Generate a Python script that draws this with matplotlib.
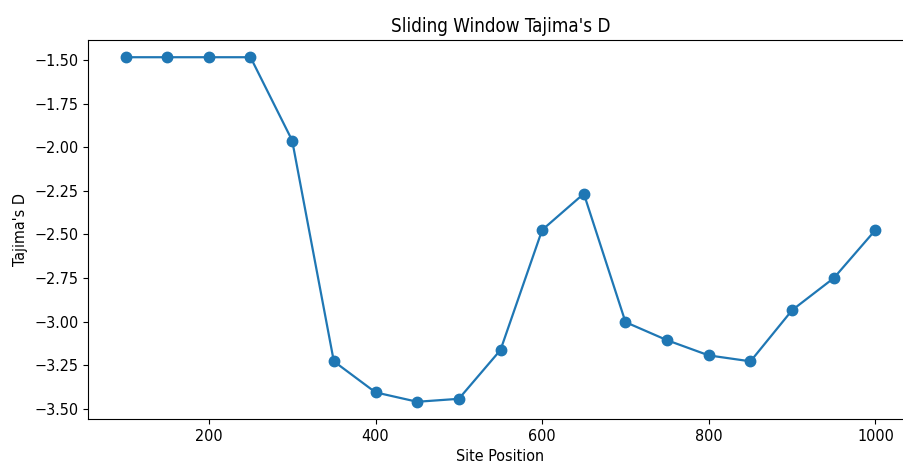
import matplotlib
matplotlib.use("Agg")
import matplotlib.pyplot as plt

positions = [100, 150, 200, 250, 300, 350, 400, 450, 500, 550, 600, 650, 700, 750, 800, 850, 900, 950, 1000]
tajima_d = [-1.483, -1.483, -1.483, -1.483, -1.961, -3.228, -3.406, -3.460, -3.443, -3.163,
            -2.474, -2.266, -3.003, -3.107, -3.194, -3.228, -2.934, -2.750, -2.474]

plt.rcParams['font.stretch'] = 'condensed'
fig = plt.figure(figsize=(9.04, 4.70), dpi=100)
ax = fig.add_axes([88/904, 51/470, 825/904, 379/470])
ax.plot(positions, tajima_d, marker='o', color='#1f77b4', markersize=7.5, linewidth=1.6)
ax.spines['right'].set_visible(False)
ax.set_title("Sliding Window Tajima's D", fontsize=13.5)
ax.set_xlabel("Site Position", fontsize=11.5)
ax.set_ylabel("Tajima's D", fontsize=11.5)
ax.tick_params(labelsize=11.5)
fig.savefig("out.png", dpi=100)
